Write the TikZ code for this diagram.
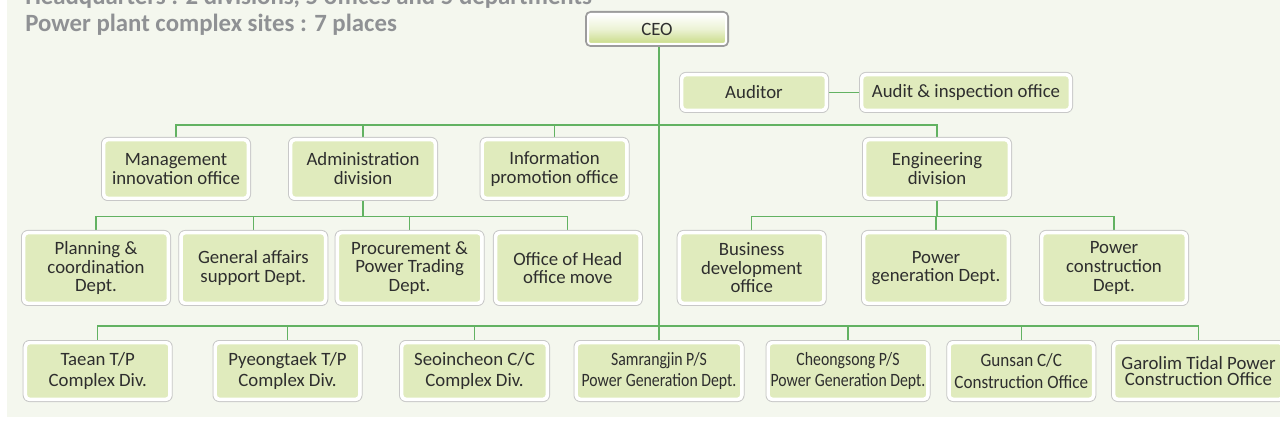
\documentclass[tikz,border=0pt]{standalone}
\usepackage{fontspec}
\setmainfont{Carlito}
\newfontfamily\condA{Carlito}[FakeStretch=0.84]
\newfontfamily\condB{Carlito}[FakeStretch=0.91]
\pgfdeclarelayer{background}
\pgfsetlayers{background,main}
\definecolor{panelbg}{HTML}{F4F7EE}
\definecolor{boxfill}{HTML}{E0EBBD}
\definecolor{boxedge}{HTML}{C8C8C8}
\definecolor{ceoedge}{HTML}{9C9C9C}
\definecolor{ceogreen}{HTML}{C8DB86}
\definecolor{linkgreen}{HTML}{62B262}
\definecolor{txt}{HTML}{2E2E2E}
\definecolor{titlegray}{HTML}{8F9194}
\tikzset{
  orgbox/.style 2 args={rounded corners=3pt, fill=boxfill, draw=white, line width=2.6pt,
     minimum width={#1*0.75pt-4.1pt}, minimum height={#2*0.75pt-4.1pt}, inner sep=0pt,
     align=center, text=txt, font=\fontsize{14.1}{14.2}\selectfont,
     append after command={\pgfextra{\draw[boxedge,line width=0.75pt,rounded corners=4.7pt]
        ([shift={(-0.375pt,-0.375pt)}]\tikzlastnode.south west) rectangle
        ([shift={(0.375pt,0.375pt)}]\tikzlastnode.north east);}}},
  lvone/.style={orgbox={#1}{41}},
  lvtwo/.style={orgbox={150}{64}},
  lvthree/.style={orgbox={150}{76}, font=\fontsize{14.1}{13.9}\selectfont},
  lvfour/.style={orgbox={#1}{62}, font=\fontsize{14.1}{16.1}\selectfont},
  ceobox/.style={rounded corners=2pt, top color=white, bottom color=ceogreen, middle color=ceogreen!35,
     draw=white, line width=1.5pt, minimum width={144*0.75pt-4.5pt}, minimum height={36*0.75pt-4.5pt},
     inner sep=0pt, text=txt, font=\fontsize{14.1}{14.2}\selectfont,
     append after command={\pgfextra{\draw[ceoedge,line width=1.5pt,rounded corners=3.5pt]
        ([shift={(-0.75pt,-0.75pt)}]\tikzlastnode.south west) rectangle
        ([shift={(0.75pt,0.75pt)}]\tikzlastnode.north east);}}},
  link/.style={draw=linkgreen, line width=1pt},
  titletext/.style={anchor=base west, inner sep=0pt, text=titlegray, font=\bfseries\fontsize{18.6}{20}\selectfont}
}
\begin{document}
\begin{tikzpicture}[x=0.75pt,y=-0.75pt]
\useasboundingbox (0,0) rectangle (1280,427);
\clip (0,0) rectangle (1280,427);
% titles
\node[titletext] (t1) at (25,4.5) {Headquarters : 2 divisions, 5 offices and 5 departments};
\node[titletext] (t2) at (25,31.5) {Power plant complex sites : 7 places};
% top
\node[ceobox] (ceo) at (657,29) {CEO};
\node[lvone=150] (aud) at (754,92.5) {Auditor};
\node[lvone=214] (audoff) at (966,92.5) {Audit \& inspection office};
% level 2
\node[lvtwo] (mgmt) at (176,169) {Management\\innovation office};
\node[lvtwo] (admin) at (363,169) {Administration\\division};
\node[lvtwo] (info) at (554.5,169) {Information\\promotion office};
\node[lvtwo] (eng) at (937,169) {Engineering\\division};
% level 3
\node[lvthree] (plan) at (96,268) {Planning \&\\coordination\\Dept.};
\node[lvthree] (gen) at (253.3,268) {General affairs\\support Dept.};
\node[lvthree] (proc) at (409.6,268) {Procurement \&\\Power Trading\\Dept.};
\node[lvthree] (move) at (567.8,268) {Office of Head\\office move};
\node[lvthree] (busdev) at (751.7,268) {Business\\development\\office};
\node[lvthree] (pgen) at (936,268) {Power\\generation Dept.};
\node[lvthree] (pcon) at (1114,268) {Power\\construction\\Dept.};
% level 4
\node[lvfour=150] (taean) at (97.7,371) {Taean T/P\\Complex Div.};
\node[lvfour=150] (pyeong) at (287.5,371) {Pyeongtaek T/P\\Complex Div.};
\node[lvfour=151] (seo) at (474.5,371) {Seoincheon C/C\\Complex Div.};
\node[lvfour=171, font=\condA\fontsize{14.1}{16.1}\selectfont] (samr) at (659,371) {Samrangjin P/S\\Power Generation Dept.};
\node[lvfour=165, font=\condA\fontsize{14.1}{16.1}\selectfont] (cheong) at (848,371) {Cheongsong P/S\\Power Generation Dept.};
\node[lvfour=150, font=\condB\fontsize{14.1}{16.1}\selectfont] (gunsan) at (1021.3,371) {Gunsan C/C\\Construction Office};
\node[lvfour=175, font=\fontsize{14.1}{12.4}\selectfont] (garolim) at (1198.5,371) {Garolim Tidal Power\\Construction Office};
\coordinate (busA) at (0,125);
\coordinate (busB) at (0,216.7);
\coordinate (busC) at (0,326);
\begin{pgfonlayer}{background}
\fill[panelbg] (7,0) rectangle (1280,417);
\draw[link] (ceo.south -| samr.north) -- (samr.north);
\draw[link] (aud.east) -- (audoff.west);
% bus A
\draw[link] (mgmt.north) -- (mgmt.north |- busA) -- (eng.north |- busA) -- (eng.north);
\draw[link] (admin.north) -- (admin.north |- busA);
\draw[link] (info.north) -- (info.north |- busA);
% bus B (administration)
\draw[link] (admin.south) -- (admin.south |- busB);
\draw[link] (plan.north) -- (plan.north |- busB) -- (move.north |- busB) -- (move.north);
\draw[link] (gen.north) -- (gen.north |- busB);
\draw[link] (proc.north) -- (proc.north |- busB);
% bus B (engineering)
\draw[link] (eng.south) -- (eng.south |- busB);
\draw[link] (busdev.north) -- (busdev.north |- busB) -- (pcon.north |- busB) -- (pcon.north);
\draw[link] (pgen.north) -- (pgen.north |- busB);
% bus C
\draw[link] (taean.north) -- (taean.north |- busC) -- (garolim.north |- busC) -- (garolim.north);
\draw[link] (pyeong.north) -- (pyeong.north |- busC);
\draw[link] (seo.north) -- (seo.north |- busC);
\draw[link] (cheong.north) -- (cheong.north |- busC);
\draw[link] (gunsan.north) -- (gunsan.north |- busC);
\end{pgfonlayer}
\end{tikzpicture}
\end{document}
